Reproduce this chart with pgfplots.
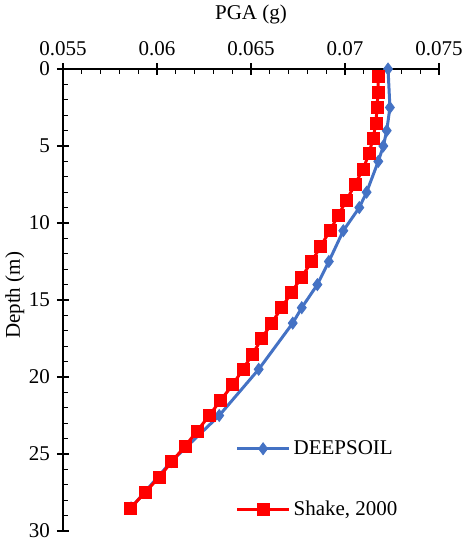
\documentclass[border=0pt]{standalone}
\usepackage{pgfplots}
\pgfplotsset{compat=1.18}
\usepackage{fontspec}
\setmainfont{Liberation Serif}
\definecolor{dsblue}{HTML}{4472C4}
\definecolor{shred}{HTML}{FF0000}
\begin{document}
\begin{tikzpicture}[font=\fontsize{10.5}{12.6}\selectfont]
\begin{axis}[
  scale only axis,
  width=188pt, height=231pt,
  xmin=0.055, xmax=0.075,
  ymin=0, ymax=30,
  y dir=reverse,
  axis x line*=top,
  axis y line*=left,
  axis line style={-, black, line width=0.6pt},
  scaled x ticks=false,
  xtick={0.055,0.06,0.065,0.07,0.075},
  xticklabels={0.055,0.06,0.065,0.07,0.075},
  ytick={0,5,10,15,20,25,30},
  minor x tick num=4,
  minor y tick num=4,
  tick align=center,
  major tick length=6pt,
  minor tick length=2.5pt,
  minor x tick style={yshift=-1.25pt},
  minor y tick style={xshift=1.25pt},
  tick style={black, line width=0.6pt},
  /pgf/number format/assume math mode=true,
  xlabel={PGA (g)},
  ylabel={Depth (m)},
  xlabel style={at={(axis description cs:0.5,1.117)}, anchor=center},
  ylabel style={at={(axis description cs:-0.128,0.51)}, anchor=center},
  clip=false,
  legend cell align=left,
  legend style={at={(axis description cs:0.458,0.112)}, anchor=west, draw=none, fill=none,
    row sep=18pt, inner sep=0pt,
    nodes={text height=7.5pt, text depth=2pt, inner sep=1.5pt}},
  legend image code/.code={\draw[mark repeat=2,mark phase=2,#1] plot coordinates {(0pt,0pt) (13pt,0pt) (26pt,0pt)};},
]
\addplot[dsblue, line width=1.5pt, mark=diamond*, mark size=3pt, mark options={fill=dsblue, line width=0.4pt}] coordinates {
(0.07229,0) (0.07239,2.5) (0.07222,4) (0.07204,5) (0.07177,6) (0.07115,8) (0.07076,9)
(0.06991,10.5) (0.06914,12.5) (0.06853,14) (0.06770,15.5) (0.06722,16.5) (0.06541,19.5)
(0.06331,22.5) (0.06075,25.5) (0.05862,28.5)
};
\addlegendentry{DEEPSOIL}
\addplot[shred, line width=1.5pt, mark=square*, mark size=3pt, mark options={fill=shred, line width=0.4pt}] coordinates {
(0.07176,0.5) (0.07176,1.5) (0.07170,2.5) (0.07165,3.5) (0.07149,4.5) (0.07128,5.5)
(0.07096,6.5) (0.07053,7.5) (0.07009,8.5) (0.06964,9.5) (0.06920,10.5) (0.06871,11.5)
(0.06823,12.5) (0.06770,13.5) (0.06716,14.5) (0.06663,15.5) (0.06610,16.5) (0.06557,17.5)
(0.06509,18.5) (0.06457,19.5) (0.06403,20.5) (0.06339,21.5) (0.06278,22.5) (0.06214,23.5)
(0.06149,24.5) (0.06078,25.5) (0.06012,26.5) (0.05936,27.5) (0.05860,28.5)
};
\addlegendentry{Shake, 2000}
\end{axis}
\pgfresetboundingbox
\path (-31.5pt,-5pt) rectangle (201pt,265.5pt);
\end{tikzpicture}
\end{document}
